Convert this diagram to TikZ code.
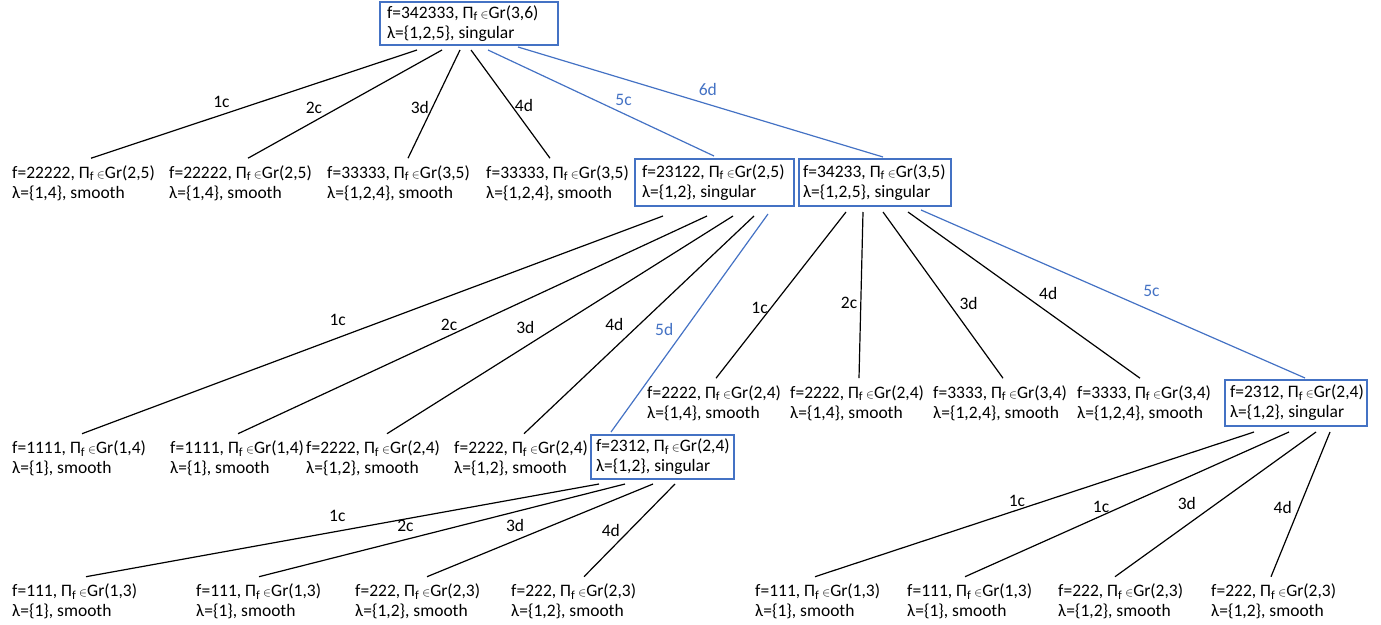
\documentclass[tikz,border=0pt]{standalone}
\usepackage{fontspec}
\setmainfont{Carlito}
\usetikzlibrary{calc}
\definecolor{boxblue}{HTML}{4472C4}
\newcommand{\pif}[1]{Π\textsubscript{f}\,{\fontsize{13}{13}\selectfont$\in$}Gr(#1)}
\tikzset{
  txt/.style={font=\fontsize{17.5}{20}\selectfont},
  leaf/.style={txt, anchor=west, align=flush left, inner xsep=0pt, inner ysep=7pt},
  sing/.style={txt, anchor=north west, align=flush left, draw=boxblue, line width=2.5pt,
    inner xsep=5pt, inner ysep=0pt, outer sep=0pt},
  link/.style={line width=1.2pt},
  bluelink/.style={link, boxblue},
  lbl/.style={txt, inner sep=3pt}
}
\begin{document}
\begin{tikzpicture}[x=1pt, y=-1pt]
        \useasboundingbox (0,0) rectangle (1381,624);

        % Root
        \node[sing, inner xsep=7pt, text width=164pt, minimum height=43pt] (root) at (380,2)
            {\mbox{f=342333, \pif{3,6}}\\λ=\{1,2,5\}, singular};

        % First level
        \node[leaf] (k1) at (12,183) {f=22222, \pif{2,5}\\λ=\{1,4\}, smooth};
        \node[leaf] (k2) at (169,183) {f=22222, \pif{2,5}\\λ=\{1,4\}, smooth};
        \node[leaf] (k3) at (327,183) {f=33333, \pif{3,5}\\λ=\{1,2,4\}, smooth};
        \node[leaf] (k4) at (486,183) {f=33333, \pif{3,5}\\λ=\{1,2,4\}, smooth};
        \node[sing, inner xsep=7pt, text width=145pt, minimum height=47pt] (k5) at (635,159)
            {\mbox{f=23122, \pif{2,5}}\\λ=\{1,2\}, singular};
        \node[sing, inner xsep=4pt, text width=144pt, minimum height=47pt] (k6) at (799,159)
            {\mbox{f=34233, \pif{3,5}}\\λ=\{1,2,5\}, singular};

        % Second level, below 23122
        \node[leaf] (m1) at (12,458.5) {f=1111, \pif{1,4}\\λ=\{1\}, smooth};
        \node[leaf] (m2) at (170,458.5) {f=1111, \pif{1,4}\\λ=\{1\}, smooth};
        \node[leaf] (m3) at (306,458.5) {f=2222, \pif{2,4}\\λ=\{1,2\}, smooth};
        \node[leaf] (m4) at (454,458.5) {f=2222, \pif{2,4}\\λ=\{1,2\}, smooth};
        \node[sing, text width=133pt, minimum height=44pt] (m5) at (591,435)
            {\mbox{f=2312, \pif{2,4}}\\λ=\{1,2\}, singular};

        % Second level, below 34233
        \node[leaf] (n1) at (647,403) {f=2222, \pif{2,4}\\λ=\{1,4\}, smooth};
        \node[leaf] (n2) at (790,403) {f=2222, \pif{2,4}\\λ=\{1,4\}, smooth};
        \node[leaf] (n3) at (933,403) {f=3333, \pif{3,4}\\λ=\{1,2,4\}, smooth};
        \node[leaf] (n4) at (1077,403) {f=3333, \pif{3,4}\\λ=\{1,2,4\}, smooth};
        \node[sing, text width=132pt, minimum height=46pt] (n5) at (1225,380)
            {\mbox{f=2312, \pif{2,4}}\\λ=\{1,2\}, singular};

        % Third level
        \node[leaf] (p1) at (12,601.5) {f=111, \pif{1,3}\\λ=\{1\}, smooth};
        \node[leaf] (p2) at (196,601.5) {f=111, \pif{1,3}\\λ=\{1\}, smooth};
        \node[leaf] (p3) at (355,601.5) {f=222, \pif{2,3}\\λ=\{1,2\}, smooth};
        \node[leaf] (p4) at (511,601.5) {f=222, \pif{2,3}\\λ=\{1,2\}, smooth};
        \node[leaf] (q1) at (755,601.5) {f=111, \pif{1,3}\\λ=\{1\}, smooth};
        \node[leaf] (q2) at (907,601.5) {f=111, \pif{1,3}\\λ=\{1\}, smooth};
        \node[leaf] (q3) at (1058,601.5) {f=222, \pif{2,3}\\λ=\{1,2\}, smooth};
        \node[leaf] (q4) at (1211,601.5) {f=222, \pif{2,3}\\λ=\{1,2\}, smooth};

        % Links from the root
        \draw[link] ($(root.south west)+(37,5)$) -- ($(k1.north west)+(79,0)$) node[lbl, pos=0.6, above=4pt] {1c};
        \draw[link] ($(root.south west)+(62,5)$) -- ($(k2.north west)+(79,0)$) node[lbl, pos=0.66, above=4pt] {2c};
        \draw[link] ($(root.south west)+(80,5)$) -- ($(k3.north west)+(81,0)$) node[lbl, pos=0.53, left] {3d};
        \draw[link] ($(root.south west)+(91,5)$) -- ($(k4.north west)+(64,0)$) node[lbl, pos=0.51, right] {4d};
        \draw[bluelink] ($(root.south west)+(108,5)$) -- ($(k5.north west)+(79,-3)$) node[lbl, pos=0.6, above=4pt] {5c};
        \draw[bluelink] ($(root.south west)+(138,2)$) -- ($(k6.north west)+(84,-2)$) node[lbl, pos=0.52, above=5pt] {6d};

        % Links from 23122
        \draw[link] ($(k5.south west)+(28,10)$) -- ($(m1.north west)+(70,0)$) node[lbl, pos=0.56, above=9pt] {1c};
        \draw[link] ($(k5.south west)+(72,10)$) -- ($(m2.north west)+(68,0)$) node[lbl, pos=0.55, above=2pt] {2c};
        \draw[link] ($(k5.south west)+(98,10)$) -- ($(m3.north west)+(81,0)$) node[lbl, pos=0.6, above=9pt] {3d};
        \draw[link] ($(k5.south west)+(119,10)$) -- ($(m4.north west)+(70,0)$) node[lbl, pos=0.5, left=12pt] {4d};
        \draw[bluelink] ($(k5.south west)+(133,8)$) -- ($(m5.north west)+(20,-3)$) node[lbl, pos=0.53, left=8pt] {5d};

        % Links from 34233
        \draw[link] ($(k6.south west)+(47,6)$) -- ($(n1.north west)+(69,0)$) node[lbl, pos=0.575, left] {1c};
        \draw[link] ($(k6.south west)+(64,6)$) -- ($(n2.north west)+(69,0)$) node[lbl, pos=0.545, left] {2c};
        \draw[link] ($(k6.south west)+(84,6)$) -- ($(n3.north west)+(70,0)$) node[lbl, pos=0.55, right=7pt] {3d};
        \draw[link] ($(k6.south west)+(109,6)$) -- ($(n4.north west)+(63,0)$) node[lbl, pos=0.55, above right] {4d};
        \draw[bluelink] ($(k6.south west)+(122,4)$) -- ($(n5.north west)+(80,-2)$) node[lbl, pos=0.6, above=11pt] {5c};

        % Links from 2312 (left)
        \draw[link] ($(m5.south west)+(8,5)$) -- ($(p1.north west)+(74,0)$) node[lbl, pos=0.51, above=6pt] {1c};
        \draw[link] ($(m5.south west)+(34,5)$) -- ($(p2.north west)+(63,0)$) node[lbl, pos=0.6, above=4pt] {2c};
        \draw[link] ($(m5.south west)+(62,5)$) -- ($(p3.north west)+(72,0)$) node[lbl, pos=0.61, above=5pt] {3d};
        \draw[link] ($(m5.south west)+(84,5)$) -- ($(p4.north west)+(73,0)$) node[lbl, pos=0.5, left=6pt] {4d};

        % Links from 2312 (right)
        \draw[link] ($(n5.south west)+(29,6)$) -- ($(q1.north west)+(60,0)$) node[lbl, pos=0.54, above] {1c};
        \draw[link] ($(n5.south west)+(64,6)$) -- ($(q2.north west)+(58,0)$) node[lbl, pos=0.58, above] {1c};
        \draw[link] ($(n5.south west)+(91,6)$) -- ($(q3.north west)+(57,0)$) node[lbl, pos=0.56, above left, xshift=-4pt] {3d};
        \draw[link] ($(n5.south west)+(105,6)$) -- ($(q4.north west)+(60,0)$) node[lbl, pos=0.52, left=4pt] {4d};
    \end{tikzpicture}
\end{document}
